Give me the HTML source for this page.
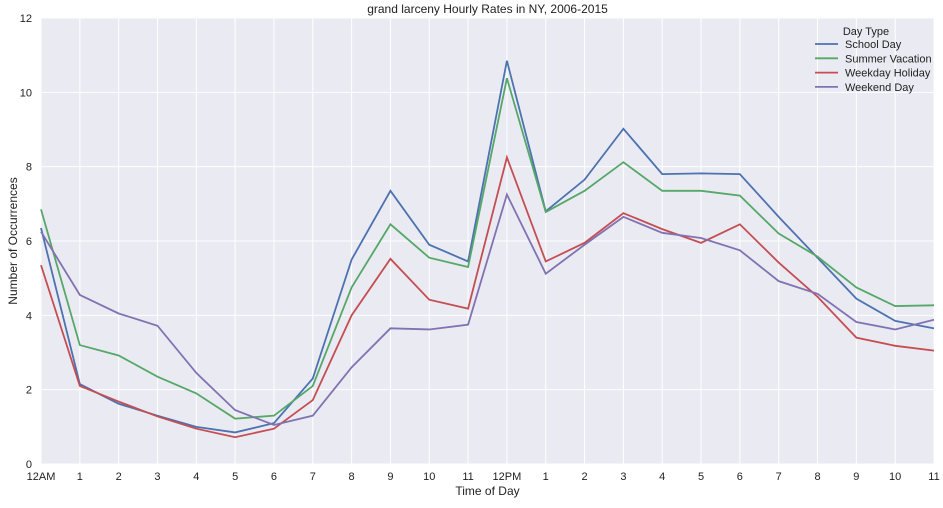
<!DOCTYPE html>
<html><head><meta charset="utf-8">
<style>
body{margin:0;background:#fff;font-family:"Liberation Sans",sans-serif;}
svg text{font-family:"Liberation Sans",sans-serif;}
</style></head>
<body>
<svg id="chart" width="943" height="503"></svg>
<script>
const xLabels=["12AM","1","2","3","4","5","6","7","8","9","10","11","12PM","1","2","3","4","5","6","7","8","9","10","11"];
const yTicks=[0,2,4,6,8,10,12];
const seriesNames=["School Day","Summer Vacation","Weekday Holiday","Weekend Day"];
const seriesColors=["#4c72b0","#55a868","#c44e52","#8172b2"];
const schoolDay=[6.35,2.15,1.62,1.3,1.0,0.85,1.1,2.3,5.5,7.35,5.9,5.45,10.85,6.8,7.65,9.02,7.8,7.82,7.8,6.65,5.55,4.45,3.85,3.65];
const summerVacation=[6.85,3.2,2.92,2.35,1.9,1.22,1.3,2.1,4.75,6.45,5.55,5.3,10.38,6.78,7.35,8.12,7.35,7.35,7.22,6.2,5.58,4.75,4.25,4.27];
const weekdayHoliday=[5.35,2.1,1.68,1.28,0.95,0.72,0.95,1.72,4.0,5.52,4.42,4.18,8.25,5.45,5.95,6.75,6.32,5.95,6.45,5.42,4.5,3.4,3.18,3.05];
const weekendDay=[6.25,4.55,4.05,3.72,2.45,1.45,1.05,1.3,2.6,3.65,3.62,3.75,7.25,5.12,5.9,6.65,6.22,6.08,5.75,4.92,4.58,3.82,3.62,3.88];
const allSeries=[schoolDay,summerVacation,weekdayHoliday,weekendDay];

const NS="http://www.w3.org/2000/svg";
const svg=document.getElementById('chart');
const L=41,R=934,T=18,B=464;
const x=i=>L+(R-L)*i/(xLabels.length-1);
const y=v=>B-(B-T)*v/12;
function mk(tag,attrs,parent){const e=document.createElementNS(NS,tag);for(const k in attrs)e.setAttribute(k,attrs[k]);(parent||svg).appendChild(e);return e;}

const bg=mk('rect',{x:L,y:T,width:R-L,height:B-T,fill:'#eaeaf2'});


const grid=mk('g',{});


yTicks.forEach(v=>{
  mk('line',{x1:L,x2:R,y1:y(v),y2:y(v),stroke:'#fff','stroke-width':1},grid);
  const t=mk('text',{x:L-9,y:y(v)+4,'text-anchor':'end','font-size':11,fill:'#222'});
  t.textContent=v;
  
  
});
xLabels.forEach((lab,i)=>{
  mk('line',{x1:x(i),x2:x(i),y1:T,y2:B,stroke:'#fff','stroke-width':1},grid);
  const t=mk('text',{x:x(i),y:B+16,'text-anchor':'middle','font-size':11,fill:'#222'});
  t.textContent=lab;
  
  
});
allSeries.forEach((s,k)=>{
  const p=mk('polyline',{points:s.map((v,i)=>x(i)+','+y(v)).join(' '),fill:'none',stroke:seriesColors[k],'stroke-width':1.8});
  
  
});
const title=mk('text',{x:(L+R)/2,y:13,'text-anchor':'middle','font-size':12,fill:'#222'});
title.textContent='grand larceny Hourly Rates in NY, 2006-2015';


const xt=mk('text',{x:(L+R)/2,y:495,'text-anchor':'middle','font-size':12,fill:'#222'});
xt.textContent='Time of Day';


const yt=mk('text',{x:17,y:(T+B)/2,'text-anchor':'middle','font-size':12,fill:'#222',transform:'rotate(-90 17 '+((T+B)/2)+')'});
yt.textContent='Number of Occurrences';


const lg=mk('g',{});


const lt=mk('text',{x:866,y:35,'text-anchor':'middle','font-size':11,fill:'#222'},lg);
lt.textContent='Day Type';


seriesNames.forEach((n,k)=>{
  const yy=48+k*14.3;
  const g=mk('g',{},lg);
  
  
  mk('line',{x1:815,x2:838,y1:yy-4,y2:yy-4,stroke:seriesColors[k],'stroke-width':1.8},g);
  const t=mk('text',{x:845,y:yy,'font-size':11,fill:'#222'},g);
  t.textContent=n;
});
</script>
</body></html>
